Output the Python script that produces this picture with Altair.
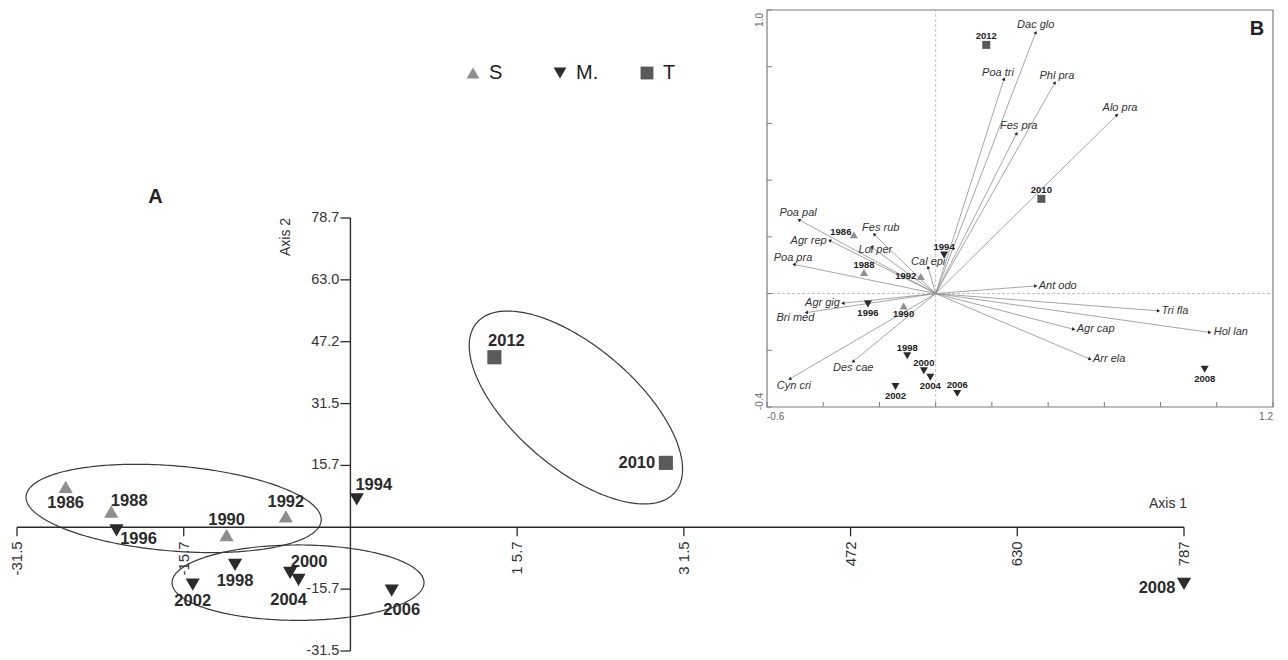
import altair as alt
import pandas as pd

FONT = "Liberation Sans"

# ---------------- data: sample scores ----------------
years = [1986, 1988, 1990, 1992, 1994, 1996, 1998, 2000, 2002, 2004, 2006, 2008, 2010, 2012]
groups = ["S", "S", "S", "S", "M.", "M.", "M.", "M.", "M.", "M.", "M.", "M.", "T", "T"]
# panel A (axis 1 / axis 2)
a_x = [-26.9, -22.6, -11.7, -6.1, 0.6, -22.1, -10.9, -5.7, -14.9, -4.9, 3.9, 78.75, 29.8, 13.6]
a_y = [10.3, 4.0, -2.0, 2.8, 7.1, -0.8, -9.6, -11.6, -14.6, -13.4, -16.1, -14.4, 16.4, 43.3]
# panel B (biplot)
b_x = [-0.291, -0.255, -0.114, -0.053, 0.030, -0.241, -0.101, -0.042, -0.143, -0.019, 0.077, 0.957, 0.376, 0.180]
b_y = [0.207, 0.074, -0.044, 0.060, 0.136, -0.037, -0.219, -0.272, -0.328, -0.295, -0.352, -0.267, 0.334, 0.877]

# species vectors (panel B)
species = ["Dac glo", "Poa tri", "Phl pra", "Alo pra", "Fes pra", "Poa pal", "Agr rep", "Poa pra",
           "Fes rub", "Lol per", "Cal epi", "Ant odo", "Tri fla", "Hol lan", "Agr cap", "Arr ela",
           "Agr gig", "Bri med", "Des cae", "Cyn cri"]
sp_x = [0.356, 0.243, 0.424, 0.645, 0.288, -0.486, -0.377, -0.504, -0.219, -0.228, -0.027, 0.356,
        0.793, 0.975, 0.491, 0.549, -0.330, -0.460, -0.294, -0.519]
sp_y = [0.921, 0.757, 0.744, 0.630, 0.565, 0.260, 0.187, 0.103, 0.209, 0.164, 0.093, 0.027,
        -0.061, -0.137, -0.126, -0.231, -0.034, -0.067, -0.240, -0.301]

# group ellipses in panel A (centre and conjugate semi-diameters, axis units)
ell_cx = [-16.7, -4.95, 21.3]
ell_cy = [4.8, -14.1, 30.5]
ell_ux = [13.94, 11.9, 9.34]
ell_uy = [-3.12, 0.0, -21.65]
ell_vx = [-0.34, 0.0, -3.78]
ell_vy = [-10.8, 9.6, -11.6]

# axes
a_xticks = [-31.5, -15.75, 15.75, 31.5, 47.25, 63.0, 78.75]
a_xtick_labels = ["-31.5", "-15.7", "1 5.7", "3 1.5", "472", "630", "787"]
a_yticks = [78.75, 63.0, 47.25, 31.5, 15.75, -15.75, -31.5]
a_ytick_labels = ["78.7", "63.0", "47.2", "31.5", "15.7", "-15.7", "-31.5"]
b_xticks = [-0.6, -0.4, -0.2, 0.0, 0.2, 0.4, 0.6, 0.8, 1.0, 1.2]
b_yticks = [-0.4, -0.2, 0.0, 0.2, 0.4, 0.6, 0.8, 1.0]

legend_order = ["S", "M.", "T"]
group_colors = ["#8e8e8e", "#2b2b2b", "#5a5a5a"]
group_shapes = ["triangle-up", "triangle-down", "square"]

# ---------------- layout (pixels) ----------------
W, H = 1270, 652
A_XRANGE = [9, 1176]
A_YRANGE = [643, 210]
B_XRANGE = [759, 1265]
B_YRANGE = [399, 2]

a_label_off = {1986: (0, 16), 1988: (18, -11), 1990: (0, -15), 1992: (0, -14), 1994: (17, -14),
               1996: (22, 9), 1998: (0, 16), 2000: (19, -11), 2002: (0, 16), 2004: (-10, 20),
               2006: (10, 19), 2008: (-27, 4), 2010: (-29, 0), 2012: (12, -16)}
b_label_off = {1986: (-13, -3), 1988: (0, -8), 1990: (0, 8), 1992: (-15, -1), 1994: (0, -8),
               1996: (0, 9), 1998: (0, -8), 2000: (0, -8), 2002: (0, 9), 2004: (0, 9),
               2006: (0, -8), 2008: (0, 10), 2010: (0, -9), 2012: (0, -9)}
sp_label_off = {"Dac glo": (0, -7, "center"), "Poa tri": (-6, -6, "center"), "Phl pra": (2, -7, "center"),
                "Alo pra": (3, -7, "center"), "Fes pra": (2, -7, "center"), "Poa pal": (-1, -7, "center"),
                "Agr rep": (-3, 0, "right"), "Poa pra": (-1, -6, "center"), "Fes rub": (-12, -6, "left"),
                "Lol per": (-13, 3, "left"), "Cal epi": (-17, -5, "left"), "Ant odo": (3, 0, "left"),
                "Tri fla": (3, 0, "left"), "Hol lan": (4, 0, "left"), "Agr cap": (3, 0, "left"),
                "Arr ela": (3, 0, "left"), "Agr gig": (-3, 0, "right"), "Bri med": (8, 5, "right"),
                "Des cae": (-20, 6, "left"), "Cyn cri": (-13, 7, "left")}

samples = pd.DataFrame({"year": years, "group": groups, "ax": a_x, "ay": a_y, "bx": b_x, "by": b_y})
samples["label"] = samples["year"].astype(str)
spec_df = pd.DataFrame({"name": species, "sx": sp_x, "sy": sp_y})

SAX = alt.Scale(domain=[a_xticks[0], a_xticks[-1]], range=A_XRANGE, nice=False, zero=False)
SAY = alt.Scale(domain=[min(a_yticks), max(a_yticks)], range=A_YRANGE, nice=False, zero=False)
SBX = alt.Scale(domain=[b_xticks[0], b_xticks[-1]], range=B_XRANGE, nice=False, zero=False)
SBY = alt.Scale(domain=[b_yticks[0], b_yticks[-1]], range=B_YRANGE, nice=False, zero=False)


def xa(f):
    return alt.X(f, type="quantitative", scale=SAX, axis=None)


def ya(f):
    return alt.Y(f, type="quantitative", scale=SAY, axis=None)


def xb(f):
    return alt.X(f, type="quantitative", scale=SBX, axis=None)


def yb(f):
    return alt.Y(f, type="quantitative", scale=SBY, axis=None)


leg = alt.Legend(orient="none", legendX=455, legendY=55, direction="horizontal", title=None,
                 labelFont=FONT, labelFontSize=20, labelColor="#222222", symbolSize=165,
                 labelOffset=6, columnPadding=38, gridAlign="all", padding=0,
                 symbolStrokeWidth=0)
shape_enc = alt.Shape("group:N", scale=alt.Scale(domain=legend_order, range=group_shapes), legend=leg)
color_enc = alt.Color("group:N", scale=alt.Scale(domain=legend_order, range=group_colors), legend=leg)

# ---------------- panel A ----------------
layers_a = []
for i in range(len(ell_cx)):
    layers_a.append(
        alt.Chart(alt.sequence(0, 6.31, 0.02, as_="t"))
        .transform_calculate(
            ex=f"{ell_cx[i]} + {ell_ux[i]}*cos(datum.t) + {ell_vx[i]}*sin(datum.t)",
            ey=f"{ell_cy[i]} + {ell_uy[i]}*cos(datum.t) + {ell_vy[i]}*sin(datum.t)",
        )
        .mark_line(color="#3a3a3a", strokeWidth=1.2)
        .encode(x=xa("ex"), y=ya("ey"), order="t:Q")
    )

axis_df = pd.DataFrame({"x0": [a_xticks[0]], "x1": [a_xticks[-1]],
                        "y0": [min(a_yticks)], "y1": [max(a_yticks)], "z": [0.0]})
layers_a.append(alt.Chart(axis_df).mark_rule(color="#2a2a2a", strokeWidth=1.4)
                .encode(x=xa("x0"), x2="x1", y=ya("z")))
layers_a.append(alt.Chart(axis_df).mark_rule(color="#2a2a2a", strokeWidth=1.4)
                .encode(x=xa("z"), y=ya("y0"), y2="y1"))

xt_df = pd.DataFrame({"v": a_xticks, "lab": a_xtick_labels, "z": 0.0})
yt_df = pd.DataFrame({"v": a_yticks, "lab": a_ytick_labels, "z": 0.0})
layers_a.append(alt.Chart(xt_df).mark_rule(color="#2a2a2a", strokeWidth=1.3, y2Offset=9)
                .encode(x=xa("v"), y=ya("z"), y2="z"))
layers_a.append(alt.Chart(xt_df).mark_text(angle=270, align="right", baseline="middle", yOffset=14,
                                           font=FONT, fontSize=15, color="#333333")
                .encode(x=xa("v"), y=ya("z"), text="lab:N"))
layers_a.append(alt.Chart(yt_df).mark_rule(color="#2a2a2a", strokeWidth=1.3, x2Offset=-10)
                .encode(x=xa("z"), x2="z", y=ya("v")))
layers_a.append(alt.Chart(yt_df).mark_text(align="right", baseline="middle", xOffset=-11,
                                           font=FONT, fontSize=14.5, color="#333333")
                .encode(x=xa("z"), y=ya("v"), text="lab:N"))

ann_df = pd.DataFrame({"xl": [a_xticks[-1]], "yt": [max(a_yticks)], "z": [0.0],
                       "t1": ["Axis 1"], "t2": ["Axis 2"], "t3": ["A"]})
layers_a.append(alt.Chart(ann_df).mark_text(angle=270, align="center", baseline="middle",
                                            xOffset=-64, yOffset=19, font=FONT, fontSize=14,
                                            color="#333333")
                .encode(x=xa("z"), y=ya("yt"), text="t2:N"))
layers_a.append(alt.Chart(ann_df).mark_text(align="center", baseline="middle", xOffset=-16, yOffset=-23,
                                            font=FONT, fontSize=14, color="#333333")
                .encode(x=xa("xl"), y=ya("z"), text="t1:N"))
layers_a.append(alt.Chart(ann_df).mark_text(align="center", baseline="middle", xOffset=-195, yOffset=-21,
                                            font=FONT, fontSize=20, fontWeight="bold", color="#222222")
                .encode(x=xa("z"), y=ya("yt"), text="t3:N"))

layers_a.append(alt.Chart(samples).mark_point(filled=True, opacity=1, size=200, strokeWidth=0)
                .encode(x=xa("ax"), y=ya("ay"), shape=shape_enc, color=color_enc))
for yr, (dx, dy) in a_label_off.items():
    layers_a.append(alt.Chart(samples).transform_filter(alt.datum.year == yr)
                    .mark_text(dx=dx, dy=dy, align="center", baseline="middle", font=FONT,
                               fontSize=16.5, fontWeight="bold", color="#2a2a2a")
                    .encode(x=xa("ax"), y=ya("ay"), text="label:N"))

panel_a = alt.layer(*layers_a)

# ---------------- panel B ----------------
layers_b = []
frame_df = pd.DataFrame({"x0": [b_xticks[0]], "x1": [b_xticks[-1]], "y0": [b_yticks[0]],
                         "y1": [b_yticks[-1]], "z": [0.0]})
layers_b.append(alt.Chart(frame_df).mark_rect(fill="white", stroke="#7d7d7d", strokeWidth=1.2)
                .encode(x=xb("x0"), x2="x1", y=yb("y0"), y2="y1"))
layers_b.append(alt.Chart(frame_df).mark_rule(color="#b0b0b0", strokeWidth=0.8, strokeDash=[3, 2])
                .encode(x=xb("z"), y=yb("y0"), y2="y1"))
layers_b.append(alt.Chart(frame_df).mark_rule(color="#b0b0b0", strokeWidth=0.8, strokeDash=[3, 2])
                .encode(x=xb("x0"), x2="x1", y=yb("z")))

bxt_df = pd.DataFrame({"v": b_xticks, "z": b_yticks[0]})
byt_df = pd.DataFrame({"v": b_yticks, "z": b_xticks[0]})
layers_b.append(alt.Chart(bxt_df).mark_rule(color="#7d7d7d", strokeWidth=1, y2Offset=-5)
                .encode(x=xb("v"), y=yb("z"), y2="z"))
layers_b.append(alt.Chart(byt_df).mark_rule(color="#7d7d7d", strokeWidth=1, x2Offset=5)
                .encode(x=xb("z"), x2="z", y=yb("v")))

blab_df = pd.DataFrame({"x0": [b_xticks[0]], "x1": [b_xticks[-1]], "y0": [b_yticks[0]], "y1": [b_yticks[-1]],
                        "lx0": [f"{b_xticks[0]:.1f}"], "lx1": [f"{b_xticks[-1]:.1f}"],
                        "ly0": [f"{b_yticks[0]:.1f}"], "ly1": [f"{b_yticks[-1]:.1f}"], "bt": ["B"]})
tick_style = dict(font=FONT, fontSize=10, color="#666666")
layers_b.append(alt.Chart(blab_df).mark_text(align="left", baseline="middle", yOffset=10, **tick_style)
                .encode(x=xb("x0"), y=yb("y0"), text="lx0:N"))
layers_b.append(alt.Chart(blab_df).mark_text(align="right", baseline="middle", yOffset=10, **tick_style)
                .encode(x=xb("x1"), y=yb("y0"), text="lx1:N"))
layers_b.append(alt.Chart(blab_df).mark_text(angle=270, align="right", baseline="bottom", xOffset=-2,
                                             yOffset=3, **tick_style)
                .encode(x=xb("x0"), y=yb("y1"), text="ly1:N"))
layers_b.append(alt.Chart(blab_df).mark_text(angle=270, align="left", baseline="bottom", xOffset=-2,
                                             yOffset=3, **tick_style)
                .encode(x=xb("x0"), y=yb("y0"), text="ly0:N"))
layers_b.append(alt.Chart(blab_df).mark_text(align="center", baseline="middle", xOffset=-16, yOffset=19,
                                             font=FONT, fontSize=20, fontWeight="bold", color="#222222")
                .encode(x=xb("x1"), y=yb("y1"), text="bt:N"))

vec = alt.Chart(spec_df).transform_calculate(
    o="0", ang="(atan2(datum.sx, datum.sy) * 180 / PI + 360) % 360")
layers_b.append(vec.mark_rule(color="#8f8f8f", strokeWidth=0.8)
                .encode(x=xb("o:Q"), y=yb("o:Q"), x2="sx", y2="sy"))
layers_b.append(vec.mark_point(shape="triangle-up", filled=True, opacity=1, size=14, color="#222222",
                               strokeWidth=0)
                .encode(x=xb("sx"), y=yb("sy"), angle=alt.Angle("ang:Q", scale=None)))
for nm, (dx, dy, al) in sp_label_off.items():
    layers_b.append(alt.Chart(spec_df).transform_filter(alt.datum.name == nm)
                    .mark_text(dx=dx, dy=dy, align=al, baseline="middle", font=FONT, fontSize=11,
                               fontStyle="italic", color="#333333")
                    .encode(x=xb("sx"), y=yb("sy"), text="name:N"))

layers_b.append(alt.Chart(samples).mark_point(filled=True, opacity=1, size=64, strokeWidth=0)
                .encode(x=xb("bx"), y=yb("by"), shape=shape_enc, color=color_enc))
for yr, (dx, dy) in b_label_off.items():
    layers_b.append(alt.Chart(samples).transform_filter(alt.datum.year == yr)
                    .mark_text(dx=dx, dy=dy, align="center", baseline="middle", font=FONT,
                               fontSize=9.5, fontWeight="bold", color="#222222")
                    .encode(x=xb("bx"), y=yb("by"), text="label:N"))

panel_b = alt.layer(*layers_b)

chart = (
    alt.layer(panel_a, panel_b)
    .resolve_scale(x="independent", y="independent")
    .properties(width=W, height=H, autosize=alt.AutoSizeParams(type="none"), padding=0,
                background="white")
    .configure_view(stroke=None)
)

chart.save("out.html", embed_options={"renderer": "svg", "actions": False})
